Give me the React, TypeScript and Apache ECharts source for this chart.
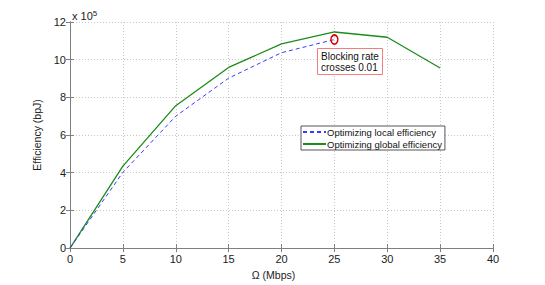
import React, { useEffect, useRef } from "react";
import * as echarts from "echarts";

const omega = [0, 5, 10, 15, 20, 25, 30, 35];
const localEff = [0, 4.02, 7.0, 9.02, 10.37, 11.07];
const globalEff = [0, 4.35, 7.56, 9.59, 10.84, 11.47, 11.19, 9.56];
const blockingPoint = [25, 11.07];
const localName = "Optimizing local efficiency";
const globalName = "Optimizing global efficiency";

export default function App() {
  const ref = useRef<HTMLDivElement>(null);
  useEffect(() => {
    document.body.style.margin = "0";
    const chart = echarts.init(ref.current!, null, { renderer: "svg" });
    const font = "Liberation Sans, Arial, sans-serif";
    const axisColor = "#7f7f7f";
    const commonAxis = {
      axisLine: { show: true, lineStyle: { color: axisColor, width: 1 } },
      axisTick: { show: true, inside: true, length: 4, lineStyle: { color: axisColor } },
    };
    chart.setOption({
      animation: false,
      backgroundColor: "#fff",
      grid: { left: 70, right: 52, top: 22, bottom: 32 },
      textStyle: { fontFamily: font },
      xAxis: [
        {
          type: "value",
          min: 0,
          max: 40,
          interval: 5,
          ...commonAxis,
          axisLabel: { color: "#222", fontSize: 11, margin: 5, fontFamily: font },
          splitLine: { show: true, lineStyle: { color: "#c8c8c8", type: [1, 2] } },
          name: "Ω (Mbps)",
          nameLocation: "middle",
          nameGap: 13,
          nameTextStyle: { color: "#222", fontSize: 10.5, fontFamily: font, padding: [0, 16, 0, 0] },
        },
        {
          type: "value",
          position: "top",
          min: 0,
          max: 40,
          interval: 5,
          ...commonAxis,
          axisLabel: { show: false },
          splitLine: { show: false },
        },
      ],
      yAxis: [
        {
          type: "value",
          min: 0,
          max: 12,
          interval: 2,
          ...commonAxis,
          axisLabel: { color: "#222", fontSize: 11, margin: 4, fontFamily: font },
          splitLine: { show: true, lineStyle: { color: "#c8c8c8", type: [1, 2] } },
          name: "Efficiency (bpJ)",
          nameLocation: "middle",
          nameGap: 11,
          nameTextStyle: { color: "#222", fontSize: 10.5, fontFamily: font },
        },
        {
          type: "value",
          position: "right",
          min: 0,
          max: 12,
          interval: 2,
          ...commonAxis,
          axisLabel: { show: false },
          splitLine: { show: false },
        },
      ],
      legend: {
        orient: "vertical",
        left: 301,
        top: 126,
        padding: [1, 3, 1, 1],
        itemGap: 2,
        itemWidth: 23,
        itemHeight: 11,
        backgroundColor: "#fff",
        borderColor: "#555",
        borderWidth: 1,
        borderRadius: 0,
        itemStyle: { opacity: 0 },
        textStyle: { color: "#111", fontSize: 9.5, fontFamily: font, padding: [0, 0, 0, -4] },
        data: [localName, globalName],
      },
      series: [
        {
          name: localName,
          type: "line",
          data: omega.slice(0, localEff.length).map((x, i) => [x, localEff[i]]),
          showSymbol: false,
          symbol: "none",
          lineStyle: { color: "#3a3aff", width: 1, type: [4, 3] },
          itemStyle: { color: "#3a3aff" },
          z: 3,
          markPoint: {
            symbol: "circle",
            symbolSize: [7, 9],
            silent: true,
            label: { show: false },
            itemStyle: { color: "rgba(0,0,0,0)", borderColor: "#e00000", borderWidth: 1.6 },
            data: [{ coord: blockingPoint }],
          },
        },
        {
          name: globalName,
          type: "line",
          data: omega.map((x, i) => [x, globalEff[i]]),
          showSymbol: false,
          symbol: "none",
          lineStyle: { color: "#1a8c1a", width: 1.3 },
          itemStyle: { color: "#1a8c1a" },
          z: 2,
        },
      ],
      graphic: [
        {
          type: "text",
          left: 72,
          top: 9,
          style: {
            text: "x 10{s|5}",
            fill: "#222",
            font: `11px ${font}`,
            rich: { s: { fontSize: 8, verticalAlign: "top", padding: [0, 0, 6, 0], fill: "#222" } },
          },
        },
        {
          type: "rect",
          shape: { x: 317.5, y: 48.5, width: 65, height: 26 },
          style: { fill: "#fff", stroke: "#f08080", lineWidth: 1 },
          z: 10,
        },
        {
          type: "text",
          x: 321,
          y: 51,
          style: {
            text: "Blocking rate\ncrosses 0.01",
            fill: "#111",
            font: `10px ${font}`,
            lineHeight: 11,
          },
          z: 11,
        },
      ],
    });
    return () => chart.dispose();
  }, []);
  return <div ref={ref} style={{ width: 545, height: 285 }} />;
}
